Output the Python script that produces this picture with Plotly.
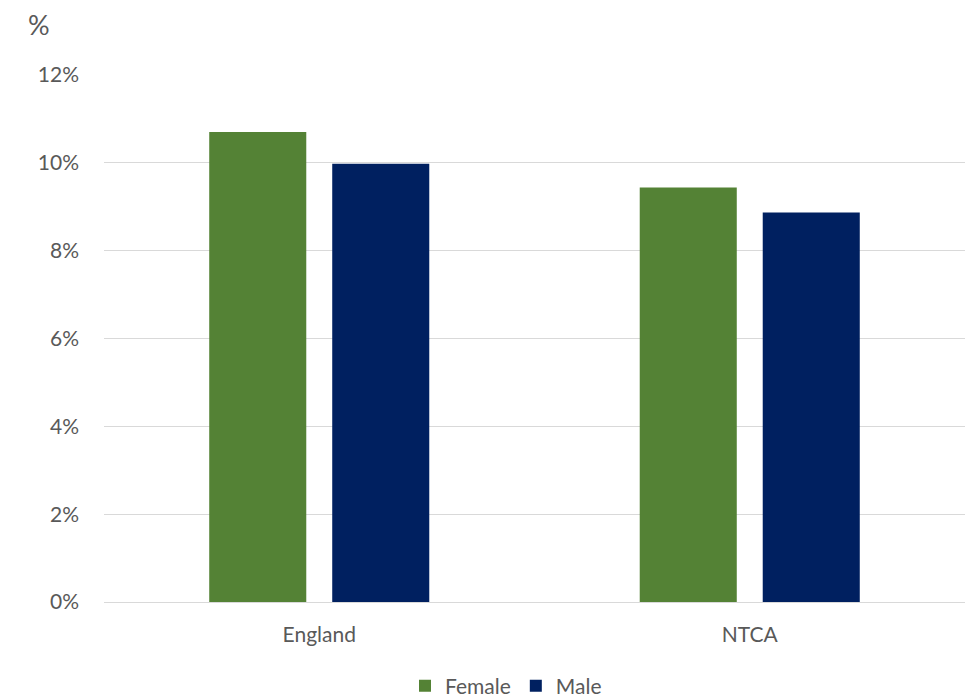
import plotly.graph_objects as go

categories = ["England", "NTCA"]
female = [10.70, 9.44]
male = [9.98, 8.87]
tick_vals = [0, 2, 4, 6, 8, 10, 12]
tick_text = ["0%", "2%", "4%", "6%", "8%", "10%", "12%"]

FONT = "Lato, Carlito, Calibri, sans-serif"
TXT = "#595959"

fig = go.Figure()
fig.add_trace(go.Bar(name="Female", x=categories, y=female, marker_color="#548235",
                     marker_line_width=0))
fig.add_trace(go.Bar(name="Male", x=categories, y=male, marker_color="#002060",
                     marker_line_width=0))

PL, PR, PT, PB = 104, 965, 75, 602
PW, PH = PR - PL, PB - PT

fig.update_layout(
    width=972, height=697,
    margin=dict(l=PL, r=972 - PR, t=PT, b=697 - PB, autoexpand=False),
    paper_bgcolor="white", plot_bgcolor="white",
    barmode="group", bargap=0.4286, bargroupgap=0.211,
    font=dict(family=FONT, size=21, color=TXT),
    showlegend=True,
    legend=dict(orientation="h", x=(405 - PL) / PW, xanchor="left",
                y=-(686 - PB) / PH, yanchor="middle",
                font=dict(size=21, color=TXT), traceorder="normal",
                itemwidth=30, tracegroupgap=0),
    annotations=[dict(text="%", x=(39 - PL) / PW, y=1 + (PT - 24) / PH,
                      xref="paper", yref="paper", xanchor="center", yanchor="middle",
                      showarrow=False, font=dict(size=27, color=TXT))],
)

fig.update_xaxes(showgrid=False, showline=True, linecolor="#d9d9d9", linewidth=1,
                 ticks="", tickfont=dict(size=21, color=TXT), ticklabelstandoff=14)
fig.update_yaxes(range=[0, 12], tickvals=tick_vals, ticktext=tick_text,
                 showgrid=True, gridcolor="#d9d9d9", gridwidth=1, zeroline=False,
                 showline=False, ticks="", tickfont=dict(size=21, color=TXT),
                 ticklabelstandoff=24)

fig.write_html("out.html")
